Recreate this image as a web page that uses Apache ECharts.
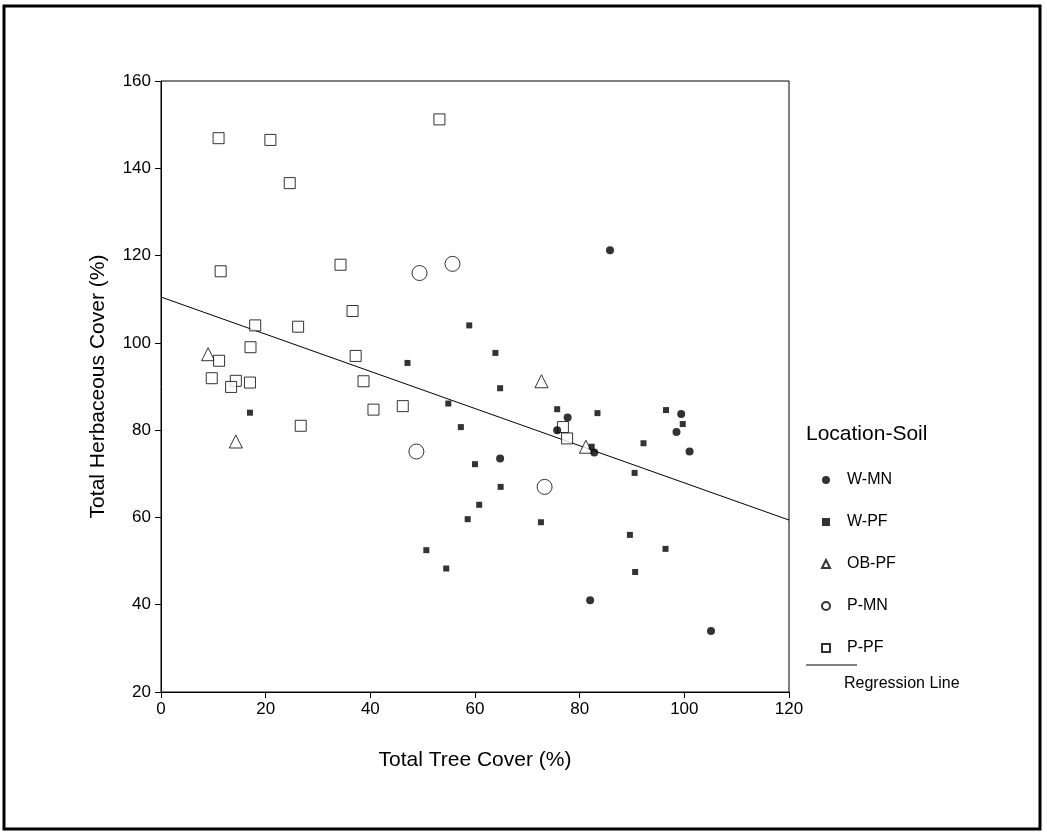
<!DOCTYPE html>
<html>
<head>
<meta charset="utf-8">
<script src="https://cdn.jsdelivr.net/npm/echarts@6/dist/echarts.min.js"></script>
<style>
  html, body { margin: 0; padding: 0; background: #fff; }
  #chart { width: 1047px; height: 833px; }
</style>
</head>
<body>
<div id="chart"></div>
<script>
// tree cover (%) , herbaceous cover (%)
var wMN = [[85.8,121.2],[77.7,82.9],[75.7,80.0],[82.8,74.9],[99.4,83.7],[98.5,79.6],[101.0,75.1],[64.8,73.5],[82.0,41.0],[105.1,34.0]];
var wPF = [[58.9,104.0],[47.1,95.4],[63.9,97.7],[64.8,89.6],[54.9,86.1],[57.3,80.7],[17.0,84.0],[75.7,84.8],[83.4,83.9],[82.3,76.2],
  [92.2,77.0],[90.5,70.2],[96.5,84.6],[99.7,81.4],[60.0,72.2],[64.9,67.0],[60.8,62.9],[58.6,59.6],[72.6,58.9],[50.7,52.5],
  [54.5,48.3],[89.6,56.0],[96.4,52.8],[90.6,47.5]];
var obPF = [[9.0,97.4],[14.3,77.4],[72.7,91.2],[81.2,76.2]];
var pMN = [[49.4,116.0],[55.7,118.1],[48.8,75.1],[73.3,67.0]];
var pPF = [[11.0,146.9],[20.9,146.5],[24.6,136.6],[53.2,151.2],[11.4,116.4],[34.3,117.9],[36.6,107.3],[18.0,104.0],[26.2,103.7],
  [17.1,99.0],[11.1,95.9],[37.2,97.0],[9.7,91.9],[14.3,91.3],[13.4,89.9],[17.0,90.9],[38.7,91.2],[40.6,84.7],[46.2,85.5],
  [26.7,81.0],[76.8,80.7],[77.6,78.1]];
var regLine = [[0,110.5],[120,59.4]];

var font = '"Liberation Sans", Arial, sans-serif';
var chart = echarts.init(document.getElementById('chart'));

var openStyle = { color: '#fff', borderColor: '#000', borderWidth: 1 };

chart.setOption({
  backgroundColor: '#fff',
  animation: false,
  textStyle: { fontFamily: font, color: '#000' },
  title: {
    text: 'Location-Soil',
    left: 801, top: 419,
    textStyle: { fontFamily: font, fontSize: 21, fontWeight: 'normal', color: '#000' }
  },
  legend: {
    orient: 'vertical',
    left: 816, top: 467,
    itemWidth: 8, itemHeight: 8,
    itemGap: 26,
    data: ['W-MN', 'W-PF', 'OB-PF', 'P-MN', 'P-PF'],
    textStyle: { fontFamily: font, fontSize: 16, color: '#000', lineHeight: 16, padding: [0, 0, 0, 12] }
  },
  grid: {
    left: 161, top: 81, width: 628, height: 611,
    show: true, borderColor: '#000', borderWidth: 1, backgroundColor: '#fff'
  },
  xAxis: {
    type: 'value', min: 0, max: 120, interval: 20,
    name: 'Total Tree Cover (%)', nameLocation: 'middle', nameGap: 58,
    nameTextStyle: { fontFamily: font, fontSize: 21, color: '#000' },
    axisLine: { lineStyle: { color: '#000', width: 1 } },
    axisTick: { show: true, length: 6, lineStyle: { color: '#000' } },
    axisLabel: { fontFamily: font, fontSize: 17, color: '#000', margin: 9 },
    splitLine: { show: false }
  },
  yAxis: {
    type: 'value', min: 20, max: 160, interval: 20,
    name: 'Total Herbaceous Cover (%)', nameLocation: 'middle', nameGap: 52,
    nameTextStyle: { fontFamily: font, fontSize: 21, color: '#000' },
    axisLine: { show: true, lineStyle: { color: '#000', width: 1 } },
    axisTick: { show: true, length: 6, lineStyle: { color: '#000' } },
    axisLabel: { fontFamily: font, fontSize: 17, color: '#000', margin: 10 },
    splitLine: { show: false }
  },
  graphic: [
    { type: 'rect', shape: { x: 4, y: 6, width: 1036, height: 823 }, style: { fill: null, stroke: '#000', lineWidth: 3 }, silent: true },
    { type: 'line', shape: { x1: 806, y1: 665, x2: 857, y2: 665 }, style: { stroke: '#000', lineWidth: 1 } },
    { type: 'text', left: 844, top: 676, style: { text: 'Regression Line', font: '16px ' + font, fill: '#000' } }
  ],
  series: [
    {
      name: 'Regression Line', type: 'line', data: regLine, symbol: 'none',
      lineStyle: { color: '#000', width: 1 }, z: 1
    },
    { name: 'W-MN', type: 'scatter', data: wMN, symbol: 'circle', symbolSize: 8, itemStyle: { color: '#000' }, z: 3 },
    { name: 'W-PF', type: 'scatter', data: wPF, symbol: 'rect', symbolSize: 6, itemStyle: { color: '#000' }, z: 3 },
    { name: 'OB-PF', type: 'scatter', data: obPF, symbol: 'triangle', symbolSize: 13, itemStyle: openStyle, z: 2 },
    { name: 'P-MN', type: 'scatter', data: pMN, symbol: 'circle', symbolSize: 15, itemStyle: openStyle, z: 2 },
    { name: 'P-PF', type: 'scatter', data: pPF, symbol: 'rect', symbolSize: 11, itemStyle: openStyle, z: 2 }
  ]
});
</script>
</body>
</html>
